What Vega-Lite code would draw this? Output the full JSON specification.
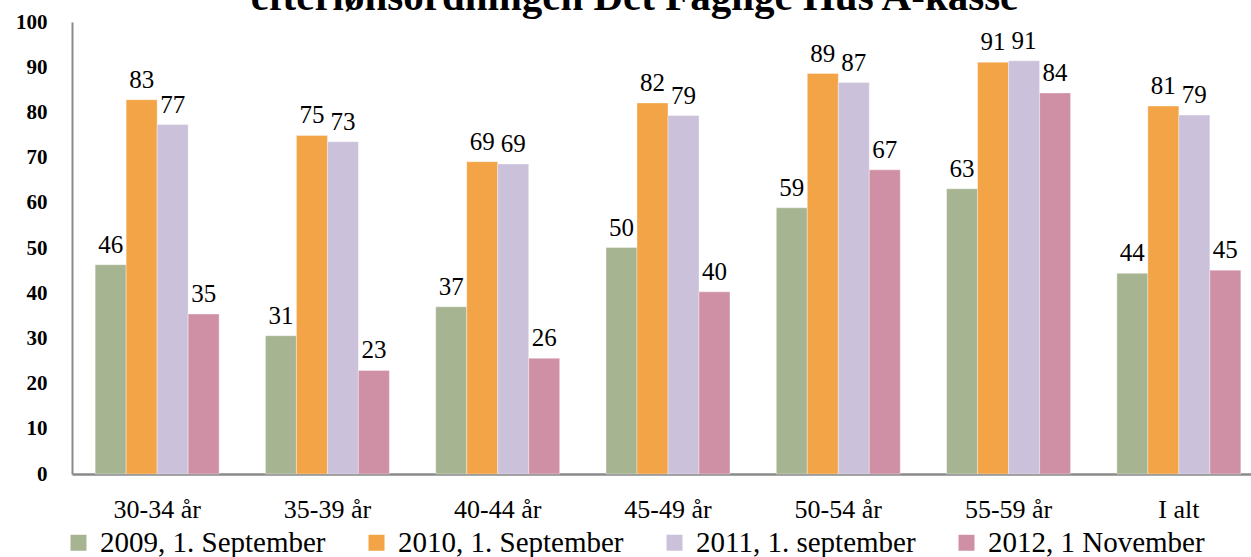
{
  "$schema": "https://vega.github.io/schema/vega-lite/v6.json",
  "autosize": "none",
  "width": 1179,
  "height": 452,
  "padding": {"left": 72, "top": 22, "right": 0, "bottom": 83},
  "background": "white",
  "title": {
    "text": "efterlønsordningen Det Faglige Hus A-kasse",
    "frame": "group",
    "anchor": "middle",
    "dx": -27,
    "dy": 40,
    "offset": 0,
    "baseline": "alphabetic",
    "font": "Liberation Serif",
    "fontSize": 41,
    "fontWeight": "bold",
    "color": "#000000"
  },
  "config": {
    "view": {"stroke": null},
    "font": "Liberation Serif"
  },
  "data": {
    "values": [
      {"group": "30-34 år", "series": "2009, 1. September", "value": 46.3, "label": "46"},
      {"group": "30-34 år", "series": "2010, 1. September", "value": 82.8, "label": "83"},
      {"group": "30-34 år", "series": "2011, 1. september", "value": 77.3, "label": "77"},
      {"group": "30-34 år", "series": "2012, 1 November", "value": 35.4, "label": "35"},
      {"group": "35-39 år", "series": "2009, 1. September", "value": 30.6, "label": "31"},
      {"group": "35-39 år", "series": "2010, 1. September", "value": 74.9, "label": "75"},
      {"group": "35-39 år", "series": "2011, 1. september", "value": 73.5, "label": "73"},
      {"group": "35-39 år", "series": "2012, 1 November", "value": 22.9, "label": "23"},
      {"group": "40-44 år", "series": "2009, 1. September", "value": 37.0, "label": "37"},
      {"group": "40-44 år", "series": "2010, 1. September", "value": 69.1, "label": "69"},
      {"group": "40-44 år", "series": "2011, 1. september", "value": 68.6, "label": "69"},
      {"group": "40-44 år", "series": "2012, 1 November", "value": 25.6, "label": "26"},
      {"group": "45-49 år", "series": "2009, 1. September", "value": 50.1, "label": "50"},
      {"group": "45-49 år", "series": "2010, 1. September", "value": 82.1, "label": "82"},
      {"group": "45-49 år", "series": "2011, 1. september", "value": 79.3, "label": "79"},
      {"group": "45-49 år", "series": "2012, 1 November", "value": 40.3, "label": "40"},
      {"group": "50-54 år", "series": "2009, 1. September", "value": 58.9, "label": "59"},
      {"group": "50-54 år", "series": "2010, 1. September", "value": 88.6, "label": "89"},
      {"group": "50-54 år", "series": "2011, 1. september", "value": 86.6, "label": "87"},
      {"group": "50-54 år", "series": "2012, 1 November", "value": 67.3, "label": "67"},
      {"group": "55-59 år", "series": "2009, 1. September", "value": 63.1, "label": "63"},
      {"group": "55-59 år", "series": "2010, 1. September", "value": 91.1, "label": "91"},
      {"group": "55-59 år", "series": "2011, 1. september", "value": 91.4, "label": "91"},
      {"group": "55-59 år", "series": "2012, 1 November", "value": 84.3, "label": "84"},
      {"group": "I alt", "series": "2009, 1. September", "value": 44.4, "label": "44"},
      {"group": "I alt", "series": "2010, 1. September", "value": 81.4, "label": "81"},
      {"group": "I alt", "series": "2011, 1. september", "value": 79.4, "label": "79"},
      {"group": "I alt", "series": "2012, 1 November", "value": 45.1, "label": "45"}
    ]
  },
  "encoding": {
    "x": {
      "field": "group",
      "type": "nominal",
      "sort": null,
      "scale": {"range": [0, 1192], "paddingInner": 0.272, "paddingOuter": 0.136},
      "axis": {
        "title": null,
        "labelAngle": 0,
        "labelFont": "Liberation Serif",
        "labelFontSize": 26,
        "labelColor": "#000000",
        "labelPadding": 22,
        "labelBaseline": "top",
        "ticks": false,
        "tickSize": 0,
        "domainColor": "#8a8a8a",
        "domainWidth": 2.5,
        "grid": false
      }
    },
    "xOffset": {
      "field": "series",
      "type": "nominal",
      "sort": null,
      "scale": {"paddingInner": 0, "paddingOuter": 0}
    },
    "y": {
      "field": "value",
      "type": "quantitative",
      "scale": {"domain": [0, 100], "nice": false, "zero": true},
      "axis": {
        "title": null,
        "values": [0, 10, 20, 30, 40, 50, 60, 70, 80, 90, 100],
        "labelFont": "Liberation Serif",
        "labelFontSize": 21,
        "labelFontWeight": "bold",
        "labelColor": "#000000",
        "labelPadding": 25,
        "ticks": false,
        "tickSize": 0,
        "grid": false,
        "domainColor": "#8a8a8a",
        "domainWidth": 2
      }
    }
  },
  "layer": [
    {
      "mark": {"type": "bar", "stroke": "#ffffff", "strokeWidth": 0.6, "strokeOpacity": 0.6},
      "encoding": {
        "color": {
          "field": "series",
          "type": "nominal",
          "sort": null,
          "scale": {
            "domain": ["2009, 1. September", "2010, 1. September", "2011, 1. september", "2012, 1 November"],
            "range": ["#a6b492", "#f2a447", "#cbc1da", "#cf90a6"]
          },
          "legend": {
            "title": null,
            "orient": "none",
            "legendX": -8,
            "legendY": 506,
            "direction": "horizontal",
            "columns": 4,
            "columnPadding": 36,
            "symbolType": "square",
            "symbolSize": 256,
            "symbolStrokeWidth": 0,
            "symbolOpacity": 1,
            "labelFont": "Liberation Serif",
            "labelFontSize": 29,
            "labelColor": "#000000",
            "labelOffset": 7,
            "labelLimit": 400,
            "padding": 0
          }
        }
      }
    },
    {
      "mark": {
        "type": "text",
        "baseline": "alphabetic",
        "align": "center",
        "dy": -12,
        "font": "Liberation Serif",
        "fontSize": 25,
        "color": "#000000"
      },
      "encoding": {
        "text": {"field": "label", "type": "nominal"}
      }
    }
  ]
}
